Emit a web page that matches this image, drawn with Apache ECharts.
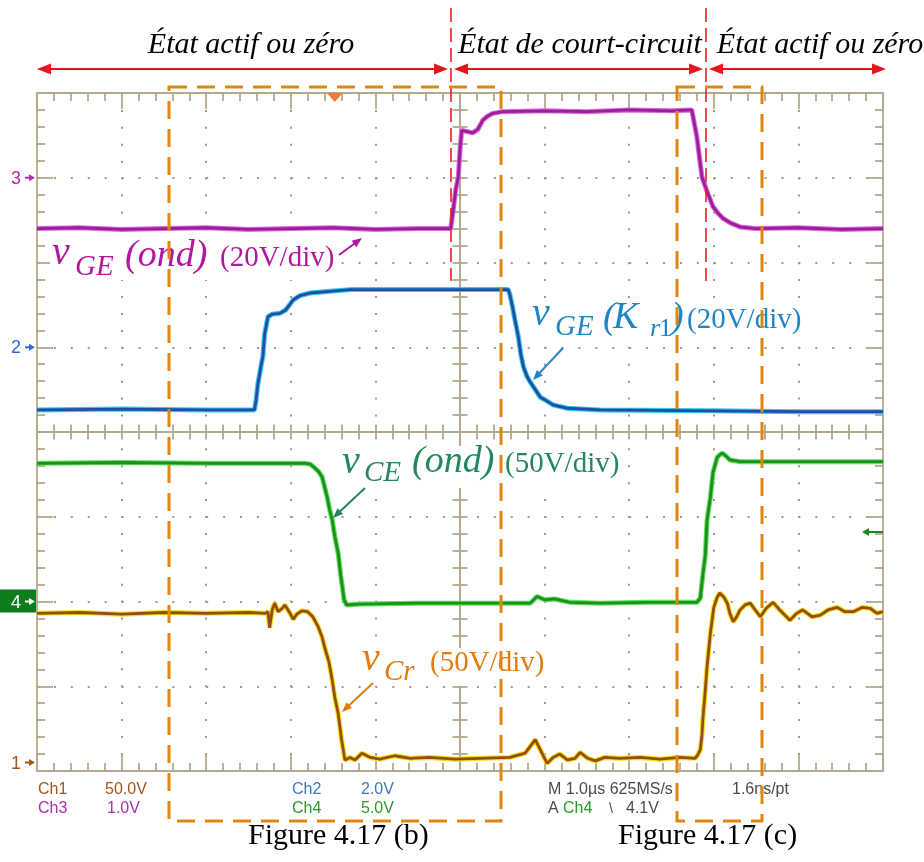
<!DOCTYPE html>
<html><head><meta charset="utf-8">
<script src="https://cdn.jsdelivr.net/npm/echarts/dist/echarts.min.js"></script>
<style>html,body{margin:0;padding:0;background:#fff}#c{width:924px;height:862px}</style>
</head><body><div id="c"></div>
<script>
// ---- DATA (time in µs, 1 µs/div; amplitude in screen divisions) ----
const timeTicks = [-5,-4,-3,-2,-1,0,1,2,3,4,5];
const divTicks = [-4,-3,-2,-1,0,1,2,3,4];
// Ch3 : v_GE(ond)
const ch3 = [[-5.00,2.40],[-4.50,2.41],[-4.00,2.39],[-3.50,2.40],[-3.00,2.41],[-2.50,2.39],[-2.00,2.40],[-1.50,2.41],[-1.00,2.39],[-0.50,2.40],[-0.11,2.40],[-0.08,2.62],[-0.05,2.86],[-0.02,3.01],[0.00,3.33],[0.02,3.56],[0.06,3.55],[0.15,3.53],[0.21,3.57],[0.27,3.68],[0.33,3.73],[0.39,3.76],[0.50,3.78],[1.00,3.79],[1.50,3.78],[2.00,3.80],[2.50,3.79],[2.74,3.80],[2.80,3.48],[2.86,3.01],[2.92,2.84],[2.99,2.66],[3.05,2.58],[3.11,2.52],[3.19,2.47],[3.31,2.42],[3.49,2.40],[4.00,2.41],[4.50,2.39],[5.00,2.40]];
// Ch2 : v_GE(Kr1)
const ch2 = [[-5.00,0.26],[-4.00,0.27],[-3.00,0.26],[-2.43,0.26],[-2.41,0.38],[-2.39,0.56],[-2.35,0.79],[-2.33,0.89],[-2.31,1.15],[-2.27,1.36],[-2.22,1.39],[-2.13,1.40],[-2.06,1.44],[-1.97,1.56],[-1.89,1.61],[-1.77,1.64],[-1.54,1.66],[-1.30,1.68],[-0.50,1.68],[0.00,1.68],[0.57,1.68],[0.59,1.62],[0.62,1.48],[0.65,1.32],[0.69,1.12],[0.72,0.91],[0.75,0.77],[0.79,0.66],[0.83,0.59],[0.89,0.50],[0.95,0.41],[1.02,0.37],[1.10,0.32],[1.27,0.28],[1.66,0.26],[3.00,0.25],[4.00,0.24],[5.00,0.24]];
// Ch4 : v_CE(ond)
const ch4 = [[-5.00,-0.37],[-4.00,-0.36],[-3.00,-0.37],[-2.00,-0.37],[-1.83,-0.37],[-1.77,-0.38],[-1.71,-0.43],[-1.67,-0.47],[-1.63,-0.53],[-1.60,-0.65],[-1.57,-0.77],[-1.54,-0.92],[-1.51,-1.04],[-1.48,-1.23],[-1.44,-1.43],[-1.41,-1.69],[-1.37,-1.98],[-1.34,-2.04],[-1.18,-2.03],[-0.50,-2.02],[0.00,-2.02],[0.50,-2.02],[0.83,-2.02],[0.91,-1.94],[1.00,-1.98],[1.12,-1.97],[1.30,-2.01],[1.66,-2.02],[2.20,-2.01],[2.80,-2.01],[2.84,-1.96],[2.87,-1.69],[2.90,-1.45],[2.92,-1.04],[2.96,-0.77],[2.99,-0.48],[3.04,-0.30],[3.07,-0.27],[3.10,-0.25],[3.14,-0.28],[3.19,-0.33],[3.31,-0.35],[4.00,-0.35],[5.00,-0.35]];
// Ch1 : v_Cr
const ch1 = [[-5.00,-2.14],[-4.50,-2.13],[-4.00,-2.15],[-3.50,-2.13],[-3.00,-2.14],[-2.50,-2.13],[-2.30,-2.14],[-2.27,-2.12],[-2.25,-2.31],[-2.22,-2.10],[-2.19,-2.02],[-2.15,-2.12],[-2.10,-2.08],[-2.07,-2.04],[-2.02,-2.12],[-1.97,-2.21],[-1.93,-2.15],[-1.87,-2.11],[-1.80,-2.12],[-1.74,-2.18],[-1.68,-2.29],[-1.63,-2.42],[-1.60,-2.54],[-1.55,-2.71],[-1.51,-2.93],[-1.48,-3.13],[-1.44,-3.32],[-1.40,-3.63],[-1.36,-3.87],[-1.30,-3.84],[-1.24,-3.87],[-1.16,-3.79],[-1.06,-3.84],[-0.95,-3.86],[-0.77,-3.82],[-0.59,-3.85],[-0.36,-3.84],[-0.06,-3.86],[0.24,-3.85],[0.59,-3.84],[0.77,-3.79],[0.89,-3.63],[0.95,-3.75],[1.03,-3.91],[1.10,-3.84],[1.18,-3.80],[1.27,-3.87],[1.36,-3.85],[1.42,-3.78],[1.51,-3.85],[1.60,-3.88],[1.71,-3.84],[1.89,-3.85],[2.13,-3.84],[2.36,-3.86],[2.60,-3.84],[2.78,-3.85],[2.81,-3.81],[2.84,-3.75],[2.86,-3.58],[2.87,-3.40],[2.90,-3.04],[2.92,-2.77],[2.96,-2.37],[2.98,-2.22],[3.00,-2.07],[3.04,-1.95],[3.07,-1.90],[3.12,-1.95],[3.16,-2.02],[3.19,-2.14],[3.23,-2.24],[3.27,-2.18],[3.31,-2.10],[3.37,-2.04],[3.43,-2.02],[3.49,-2.10],[3.55,-2.18],[3.62,-2.08],[3.70,-2.01],[3.78,-2.10],[3.90,-2.22],[3.98,-2.14],[4.05,-2.10],[4.16,-2.18],[4.26,-2.16],[4.35,-2.10],[4.46,-2.07],[4.55,-2.12],[4.65,-2.12],[4.75,-2.07],[4.85,-2.08],[4.93,-2.14],[5.00,-2.12]];
// channel ground markers (divisions) and trigger
const groundLabels = ['1','2','3','4'];
const groundLevels = [-3.9, 1.0, 3.0, -2.0];
const triggerTime = -1.48;
const triggerLevel = -1.18;

// ---- STYLE ----
const gridColor = '#b3a98c';
const dotColor = '#a39a82';
const serif = '"Liberation Serif", "Times New Roman", serif';
const sans = '"Liberation Sans", Arial, sans-serif';

const chart = echarts.init(document.getElementById('c'), null, {renderer: 'canvas'});

function edgeAxis(dim, pos, split) {
  return {
    type: 'value', min: dim === 'x' ? -5 : -4, max: dim === 'x' ? 5 : 4, interval: 1, position: pos,
    axisLine: {show: true, onZero: false, lineStyle: {color: gridColor, width: 1.8}},
    axisTick: {show: true, inside: true, length: 16, lineStyle: {color: gridColor, width: 1.8}},
    minorTick: {show: true, splitNumber: 5, length: 8, lineStyle: {color: gridColor, width: 1.8}},
    axisLabel: {show: false},
    splitLine: {show: split, lineStyle: {color: dotColor, width: 2, type: [2, 14.92]}}
  };
}
function centerAxis(dim, pos, inside) {
  return {
    type: 'value', min: dim === 'x' ? -5 : -4, max: dim === 'x' ? 5 : 4, interval: 1, position: pos,
    axisLine: {show: true, onZero: true, onZeroAxisIndex: 0, lineStyle: {color: gridColor, width: 1.8}},
    axisTick: {show: true, inside: inside, length: 7.5, lineStyle: {color: gridColor, width: 1.8}},
    minorTick: {show: true, splitNumber: 5, length: 7.5, lineStyle: {color: gridColor, width: 1.8}},
    axisLabel: {show: false}, splitLine: {show: false}
  };
}
function trace(data, core, fringe) {
  return [
    {type: 'line', data: data, symbol: 'none', showSymbol: false, silent: true, z: 3,
     lineStyle: {color: fringe, width: 5}},
    {type: 'line', data: data, symbol: 'none', showSymbol: false, silent: true, z: 4,
     lineStyle: {color: core, width: 2.8}}
  ];
}

const option = {
  animation: false,
  backgroundColor: '#ffffff',
  grid: {left: 37, top: 93, width: 846, height: 678, show: false},
  xAxis: [edgeAxis('x', 'bottom', true), edgeAxis('x', 'top', false), centerAxis('x', 'bottom', true), centerAxis('x', 'bottom', false)],
  yAxis: [edgeAxis('y', 'left', true), edgeAxis('y', 'right', false), centerAxis('y', 'left', true), centerAxis('y', 'left', false)],
  series: [].concat(
    trace(ch3, '#9c1c9c', '#d86ad8'),
    trace(ch2, '#1f4ea6', '#3cc4e6'),
    trace(ch4, '#1d8f1d', '#5ee05e'),
    trace(ch1, '#9a4c0c', '#ece024')
  )
};
chart.setOption(option);

// ---- ANNOTATIONS ----
const P = (t, v) => chart.convertToPixel({xAxisIndex: 0, yAxisIndex: 0}, [t, v]);
const G = [];
function T(text, x, base, size, color, opt) {
  opt = opt || {};
  G.push({type: 'text', z: 30, style: {
    text: text, x: x, y: base - size * 0.32, fill: color,
    font: (opt.italic ? 'italic ' : '') + size + 'px ' + (opt.family || serif),
    textAlign: opt.align || 'left', textVerticalAlign: 'middle'}});
}
function arrow(x1, y1, x2, y2, color, lw, hl, hw, both) {
  const dx = x2 - x1, dy = y2 - y1, L = Math.hypot(dx, dy), ux = dx / L, uy = dy / L, nx = -uy, ny = ux;
  const head = (tx, ty, sx, sy) => ({type: 'polygon', z: 31, shape: {points: [[tx, ty],
    [tx - sx * hl + nx * hw / 2, ty - sy * hl + ny * hw / 2], [tx - sx * hl - nx * hw / 2, ty - sy * hl - ny * hw / 2]]},
    style: {fill: color}});
  const s = both ? [x1 + ux * hl * 0.8, y1 + uy * hl * 0.8] : [x1, y1];
  const e = [x2 - ux * hl * 0.8, y2 - uy * hl * 0.8];
  G.push({type: 'line', z: 31, shape: {x1: s[0], y1: s[1], x2: e[0], y2: e[1]}, style: {stroke: color, lineWidth: lw}});
  G.push(head(x2, y2, ux, uy));
  if (both) G.push(head(x1, y1, -ux, -uy));
}
function white(x, y, w, h) {
  G.push({type: 'rect', z: 10, shape: {x: x, y: y, width: w, height: h}, style: {fill: '#ffffff'}});
}

// top state annotations
const red = '#e8141c';
T('État actif ou zéro', 251, 55, 30, '#000', {italic: true, align: 'center'});
T('État de court-circuit', 580, 55, 30, '#000', {italic: true, align: 'center'});
T('État actif ou zéro', 820, 55, 30, '#000', {italic: true, align: 'center'});
arrow(37, 69, 448, 69, red, 2, 14, 11, true);
arrow(454, 69, 703, 69, red, 2, 14, 11, true);
arrow(709, 69, 886, 69, red, 2, 14, 11, true);
[451, 706].forEach(x => G.push({type: 'line', z: 32, shape: {x1: x, y1: 8, x2: x, y2: 281},
  style: {stroke: '#ee1c24', lineWidth: 1.6, lineDash: [14, 6]}}));

// label backgrounds
white(50, 240, 288, 40);
white(530, 302, 276, 39);
white(339, 446, 284, 42);
white(359, 648, 192, 38);

// v_GE(ond)
const cM = '#b1179f';
T('v', 52, 266, 40, cM, {italic: true});
T('GE', 75, 277, 29, cM, {italic: true});
T('(ond)', 125, 268, 38, cM, {italic: true});
T('(20V/div)', 220, 268, 29, cM);
arrow(339, 255, 362, 238, cM, 2, 10, 8, false);
// v_GE(Kr1)
const cB = '#1f86c6';
T('v', 532, 327, 40, cB, {italic: true});
T('GE', 555, 337, 29, cB, {italic: true});
T('(', 603, 330, 38, cB, {italic: true});
T('K', 613, 330, 38, cB, {italic: true});
T('r', 650, 337, 26, cB, {italic: true});
T('1', 659, 337, 26, cB);
T(')', 671, 330, 38, cB, {italic: true});
T('(20V/div)', 687, 330, 29, cB);
arrow(563, 348, 533, 380, cB, 2, 10, 8, false);
// v_CE(ond)
const cG = '#22875c';
T('v', 342, 475, 40, cG, {italic: true});
T('CE', 364, 483, 29, cG, {italic: true});
T('(ond)', 412, 474, 38, cG, {italic: true});
T('(50V/div)', 505, 474, 29, cG);
arrow(365, 488, 333, 518, cG, 2, 10, 8, false);
// v_Cr
const cO = '#e27c12';
T('v', 362, 672, 40, cO, {italic: true});
T('Cr', 384, 682, 29, cO, {italic: true});
T('(50V/div)', 430, 673, 29, cO);
arrow(373, 683, 342, 712, cO, 2, 10, 8, false);

// orange dashed boxes
const cBox = '#e0850f';
G.push({type: 'rect', z: 33, shape: {x: 169, y: 87, width: 332, height: 734},
  style: {fill: 'none', stroke: cBox, lineWidth: 3, lineDash: [18, 10]}});
G.push({type: 'rect', z: 33, shape: {x: 677, y: 87, width: 85, height: 734},
  style: {fill: 'none', stroke: cBox, lineWidth: 3, lineDash: [18, 10]}});

// trigger position marker
const tp = P(triggerTime, 4);
G.push({type: 'polygon', z: 34, shape: {points: [[tp[0] - 8, tp[1]], [tp[0] + 8, tp[1]], [tp[0], tp[1] + 9]]}, style: {fill: '#f47a3c'}});
// trigger level marker (right)
const tl = P(5, triggerLevel);
arrow(tl[0], tl[1], tl[0] - 21, tl[1], '#1a8a1a', 2, 7, 8, false);

// channel ground markers
const gColors = ['#a0561e', '#2f6cd0', '#b02cb0', '#ffffff'];
groundLabels.forEach((lab, i) => {
  const p = P(-5, groundLevels[i]);
  if (lab === '4') {
    G.push({type: 'rect', z: 20, shape: {x: 0, y: p[1] - 12, width: 36, height: 23}, style: {fill: '#0b7d1c'}});
  }
  T(lab, 11, p[1] + 7, 18, gColors[i], {family: sans});
  arrow(25, p[1], 35, p[1], gColors[i], 2, 6, 7, false);
});

// scope readout
const r1 = 795, r2 = 814, fs = 16;
T('Ch1', 38, r1, fs, '#a0561e', {family: sans});
T('50.0V', 105, r1, fs, '#a0561e', {family: sans});
T('Ch3', 38, r2, fs, '#b02cb0', {family: sans});
T('1.0V', 107, r2, fs, '#b02cb0', {family: sans});
T('Ch2', 292, r1, fs, '#3a76d0', {family: sans});
T('2.0V', 361, r1, fs, '#3a76d0', {family: sans});
T('Ch4', 292, r2, fs, '#2a9a2a', {family: sans});
T('5.0V', 361, r2, fs, '#2a9a2a', {family: sans});
T('M 1.0µs 625MS/s', 548, r1, fs, '#4a4a4a', {family: sans});
T('1.6ns/pt', 732, r1, fs, '#4a4a4a', {family: sans});
T('A', 548, r2, fs, '#4a4a4a', {family: sans});
T('Ch4', 563, r2, fs, '#2a9a2a', {family: sans});
T('\\', 609, r2, 14, '#4a4a4a', {family: sans});
T('4.1V', 626, r2, fs, '#4a4a4a', {family: sans});

// figure captions
T('Figure 4.17 (b)', 248, 846, 30, '#000');
T('Figure 4.17 (c)', 618, 846, 30, '#000');

chart.setOption({graphic: {elements: G}});
</script></body></html>
